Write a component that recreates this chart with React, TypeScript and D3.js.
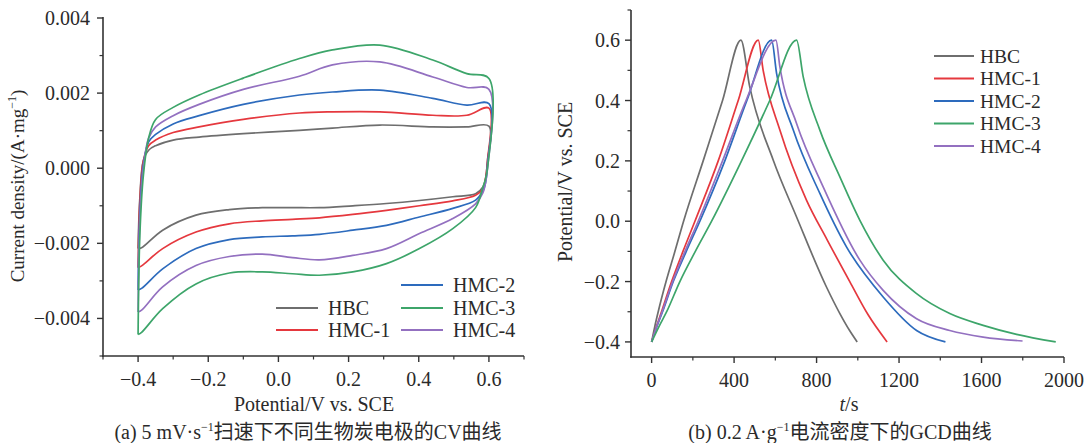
import React from 'react';
import * as d3 from 'd3';

// ---- CV data (potential V, current density A/mg) ----
const cvNames = ['HBC', 'HMC-1', 'HMC-2', 'HMC-3', 'HMC-4'];
const colors = ['#6e6e6e', '#e5383e', '#2d6bbd', '#3da56a', '#9370c0'];

const cvUpperV = [-0.4, -0.395, -0.385, -0.37, -0.35, -0.3, -0.226, -0.1, 0.06, 0.154, 0.289, 0.44, 0.537, 0.6];
const cvUpper = [
  [-0.00214, -0.0008, 0.0002, 0.00048, 0.0006, 0.00075, 0.00083, 0.00092, 0.00101, 0.00107, 0.00115, 0.0011, 0.0011, 0.00112],
  [-0.00265, -0.0009, 0.0002, 0.0006, 0.00075, 0.00095, 0.0011, 0.0013, 0.00147, 0.0015, 0.0015, 0.00141, 0.00141, 0.0016],
  [-0.00324, -0.0012, 0.0001, 0.0007, 0.0009, 0.00118, 0.0014, 0.0017, 0.00195, 0.00203, 0.00208, 0.00186, 0.00168, 0.00172],
  [-0.00443, -0.0018, -0.0002, 0.0008, 0.0013, 0.00162, 0.00195, 0.0024, 0.00292, 0.00315, 0.00328, 0.00288, 0.00252, 0.00239],
  [-0.00383, -0.0014, 0.0, 0.0008, 0.0011, 0.0014, 0.0017, 0.0021, 0.00245, 0.00275, 0.00283, 0.00243, 0.00215, 0.0021],
];
const cvLowerV = [0.596, 0.59, 0.583, 0.562, 0.497, 0.402, 0.308, 0.212, 0.117, 0.04, -0.046, -0.14, -0.235, -0.33, -0.39, -0.4];
const cvLower = [
  [0.0002, -0.0003, -0.0005, -0.00068, -0.00076, -0.00086, -0.00094, -0.001, -0.00105, -0.00105, -0.00105, -0.0011, -0.00125, -0.00165, -0.00212, -0.00214],
  [0.0002, -0.0003, -0.00055, -0.00072, -0.00087, -0.001, -0.00112, -0.00123, -0.00132, -0.00136, -0.0014, -0.00148, -0.0017, -0.00214, -0.0026, -0.00265],
  [0.0001, -0.0004, -0.0006, -0.00085, -0.00107, -0.0013, -0.00152, -0.00165, -0.00176, -0.0018, -0.00183, -0.0019, -0.00214, -0.00268, -0.0032, -0.00324],
  [0.0, -0.0003, -0.0005, -0.00105, -0.00161, -0.00214, -0.00254, -0.00276, -0.00285, -0.00281, -0.00276, -0.00279, -0.00308, -0.00374, -0.00437, -0.00443],
  [0.0, -0.0004, -0.00065, -0.00095, -0.00134, -0.00174, -0.00214, -0.00232, -0.00244, -0.00238, -0.00229, -0.00235, -0.00259, -0.00316, -0.00378, -0.00383],
];

// ---- GCD data (time s, potential V) ----
const gcdT = [
  [0, 15, 32, 70, 110, 155, 250, 344, 433, 476, 590, 703, 848, 913, 961, 997],
  [0, 23, 48, 97, 152, 210, 323, 420, 517, 541, 622, 751, 850, 961, 1050, 1142],
  [0, 25, 53, 105, 168, 234, 355, 462, 582, 606, 687, 816, 945, 1123, 1285, 1425],
  [0, 35, 73, 137, 212, 291, 436, 573, 703, 735, 816, 913, 1010, 1123, 1285, 1446, 1608, 1770, 1960],
  [0, 24, 51, 102, 162, 226, 344, 458, 603, 622, 703, 832, 1010, 1123, 1285, 1446, 1608, 1799],
];
const gcdP = [
  [-0.4, -0.35, -0.3, -0.2, -0.107, 0.0, 0.2, 0.4, 0.6, 0.445, 0.202, 0.014, -0.218, -0.306, -0.363, -0.4],
  [-0.4, -0.35, -0.3, -0.2, -0.1, 0.0, 0.2, 0.4, 0.6, 0.5, 0.302, 0.07, -0.06, -0.2, -0.31, -0.4],
  [-0.4, -0.35, -0.3, -0.2, -0.1, 0.0, 0.2, 0.4, 0.6, 0.49, 0.302, 0.092, -0.085, -0.251, -0.362, -0.4],
  [-0.4, -0.35, -0.3, -0.2, -0.1, 0.0, 0.2, 0.4, 0.6, 0.479, 0.302, 0.147, 0.003, -0.129, -0.24, -0.306, -0.345, -0.375, -0.4],
  [-0.4, -0.35, -0.3, -0.2, -0.1, 0.0, 0.2, 0.4, 0.6, 0.512, 0.324, 0.114, -0.129, -0.229, -0.323, -0.362, -0.384, -0.397],
];

const cvXTicks = [-0.4, -0.2, 0.0, 0.2, 0.4, 0.6];
const cvXMinor = [-0.5, -0.3, -0.1, 0.1, 0.3, 0.5, 0.7];
const cvYTicks = [-0.004, -0.002, 0.0, 0.002, 0.004];
const cvYMinor = [-0.005, -0.003, -0.001, 0.001, 0.003];
const gcdXTicks = [0, 400, 800, 1200, 1600, 2000];
const gcdXMinor = [200, 600, 1000, 1400, 1800];
const gcdYTicks = [-0.4, -0.2, 0.0, 0.2, 0.4, 0.6];
const gcdYMinor = [-0.3, -0.1, 0.1, 0.3, 0.5, 0.7];

const FONT = '"Liberation Serif", "Times New Roman", "Noto Sans CJK SC", serif';
const AX = '#333';
const TXT = '#2a2a2a';
const FS = 20;

export default function App() {
  const xCV = d3.scaleLinear().domain([-0.5, 0.7]).range([103, 524]);
  const yCV = d3.scaleLinear().domain([-0.005, 0.004]).range([356, 18]);
  const xG = d3.scaleLinear().domain([-100, 2000]).range([631, 1064]);
  const yG = d3.scaleLinear().domain([-0.45, 0.7]).range([357, 10]);

  const cvLine = d3
    .line<[number, number]>()
    .x((d) => xCV(d[0]))
    .y((d) => yCV(d[1]))
    .curve(d3.curveCatmullRom.alpha(0.5));
  const gLine = d3
    .line<[number, number]>()
    .x((d) => xG(d[0]))
    .y((d) => yG(d[1]))
    .curve(d3.curveMonotoneX);

  const cvPaths = cvNames.map((_, i) => {
    const pts: [number, number][] = [
      ...cvUpperV.map((v, j) => [v, cvUpper[i][j]] as [number, number]),
      ...cvLowerV.map((v, j) => [v, cvLower[i][j]] as [number, number]),
    ];
    return cvLine(pts);
  });
  const gPaths = cvNames.map((_, i) =>
    gLine(gcdT[i].map((t, j) => [t, gcdP[i][j]] as [number, number]))
  );

  const fmt3 = d3.format('.3f');
  const fmt1 = d3.format('.1f');
  const drawOrder = [0, 1, 2, 4, 3];

  const legLeft = [
    { i: 0, x: 276, y: 308 },
    { i: 1, x: 276, y: 330 },
    { i: 2, x: 401, y: 285 },
    { i: 3, x: 401, y: 308 },
    { i: 4, x: 401, y: 330 },
  ];

  return (
    <svg width={1085} height={443} style={{ display: 'block', position: 'absolute', left: 0, top: 0 }} fontFamily={FONT}>
      <rect width={1085} height={443} fill="#fff" />
      {/* ---------- Panel a ---------- */}
      <g>
        {drawOrder.map((i) => (
          <path key={i} d={cvPaths[i] || ''} fill="none" stroke={colors[i]} strokeWidth={1.7} />
        ))}
        <line x1={103} x2={103} y1={17} y2={356.8} stroke={AX} strokeWidth={1.6} />
        <line x1={102.2} x2={524} y1={356} y2={356} stroke={AX} strokeWidth={1.6} />
        {cvYTicks.map((t) => (
          <g key={t}>
            <line x1={97} x2={103} y1={yCV(t)} y2={yCV(t)} stroke={AX} strokeWidth={1.4} />
            <text x={90} y={yCV(t)} dy="0.35em" textAnchor="end" fontSize={FS} fill={TXT}>
              {fmt3(t)}
            </text>
          </g>
        ))}
        {cvYMinor.map((t) => (
          <line key={t} x1={99.5} x2={103} y1={yCV(t)} y2={yCV(t)} stroke={AX} strokeWidth={1.2} />
        ))}
        {cvXTicks.map((t) => (
          <g key={t}>
            <line x1={xCV(t)} x2={xCV(t)} y1={356} y2={362} stroke={AX} strokeWidth={1.4} />
            <text x={xCV(t)} y={386} textAnchor="middle" fontSize={FS} fill={TXT}>
              {fmt1(t)}
            </text>
          </g>
        ))}
        {cvXMinor.map((t) => (
          <line key={t} x1={xCV(t)} x2={xCV(t)} y1={356} y2={359.5} stroke={AX} strokeWidth={1.2} />
        ))}
        <text transform="translate(24,186) rotate(-90)" textAnchor="middle" fontSize={19} fill={TXT}>
          Current density/(A·mg
          <tspan fontSize={12} dy={-8}>−1</tspan>
          <tspan dy={8}>)</tspan>
        </text>
        <text x={314} y={411} textAnchor="middle" fontSize={FS} fill={TXT}>
          Potential/V vs. SCE
        </text>
        {legLeft.map((l) => (
          <g key={l.i}>
            <line x1={l.x} x2={l.x + 42} y1={l.y} y2={l.y} stroke={colors[l.i]} strokeWidth={1.8} />
            <text x={l.x + 52} y={l.y} dy="0.35em" fontSize={FS} fill={TXT}>
              {cvNames[l.i]}
            </text>
          </g>
        ))}
        <text x={308} y={439} textAnchor="middle" fontSize={FS} fill={TXT}>
          (a) 5 mV·s<tspan fontSize={12} dy={-8}>−1</tspan>
          <tspan dy={8}>扫速下不同生物炭电极的CV曲线</tspan>
        </text>
      </g>

      {/* ---------- Panel b ---------- */}
      <g>
        {drawOrder.map((i) => (
          <path key={i} d={gPaths[i] || ''} fill="none" stroke={colors[i]} strokeWidth={1.7} />
        ))}
        <line x1={631} x2={631} y1={10} y2={357.8} stroke={AX} strokeWidth={1.6} />
        <line x1={630.2} x2={1064} y1={357} y2={357} stroke={AX} strokeWidth={1.6} />
        {gcdYTicks.map((t) => (
          <g key={t}>
            <line x1={625} x2={631} y1={yG(t)} y2={yG(t)} stroke={AX} strokeWidth={1.4} />
            <text x={620} y={yG(t)} dy="0.35em" textAnchor="end" fontSize={FS} fill={TXT}>
              {fmt1(t)}
            </text>
          </g>
        ))}
        {gcdYMinor.map((t) => (
          <line key={t} x1={627.5} x2={631} y1={yG(t)} y2={yG(t)} stroke={AX} strokeWidth={1.2} />
        ))}
        {gcdXTicks.map((t) => (
          <g key={t}>
            <line x1={xG(t)} x2={xG(t)} y1={357} y2={363} stroke={AX} strokeWidth={1.4} />
            <text x={xG(t)} y={387} textAnchor="middle" fontSize={FS} fill={TXT}>
              {t}
            </text>
          </g>
        ))}
        {gcdXMinor.map((t) => (
          <line key={t} x1={xG(t)} x2={xG(t)} y1={357} y2={360.5} stroke={AX} strokeWidth={1.2} />
        ))}
        <text transform="translate(572,182) rotate(-90)" textAnchor="middle" fontSize={FS} fill={TXT}>
          Potential/V vs. SCE
        </text>
        <text x={849} y={411} textAnchor="middle" fontSize={FS} fill={TXT}>
          <tspan fontStyle="italic">t</tspan>/s
        </text>
        {cvNames.map((n, i) => (
          <g key={n}>
            <line x1={934} x2={974} y1={56 + i * 22.5} y2={56 + i * 22.5} stroke={colors[i]} strokeWidth={1.8} />
            <text x={980} y={56 + i * 22.5} dy="0.35em" fontSize={19.5} fill={TXT}>
              {n}
            </text>
          </g>
        ))}
        <text x={840} y={439} textAnchor="middle" fontSize={FS} fill={TXT}>
          (b) 0.2 A·g<tspan fontSize={12} dy={-8}>−1</tspan>
          <tspan dy={8}>电流密度下的GCD曲线</tspan>
        </text>
      </g>
    </svg>
  );
}
